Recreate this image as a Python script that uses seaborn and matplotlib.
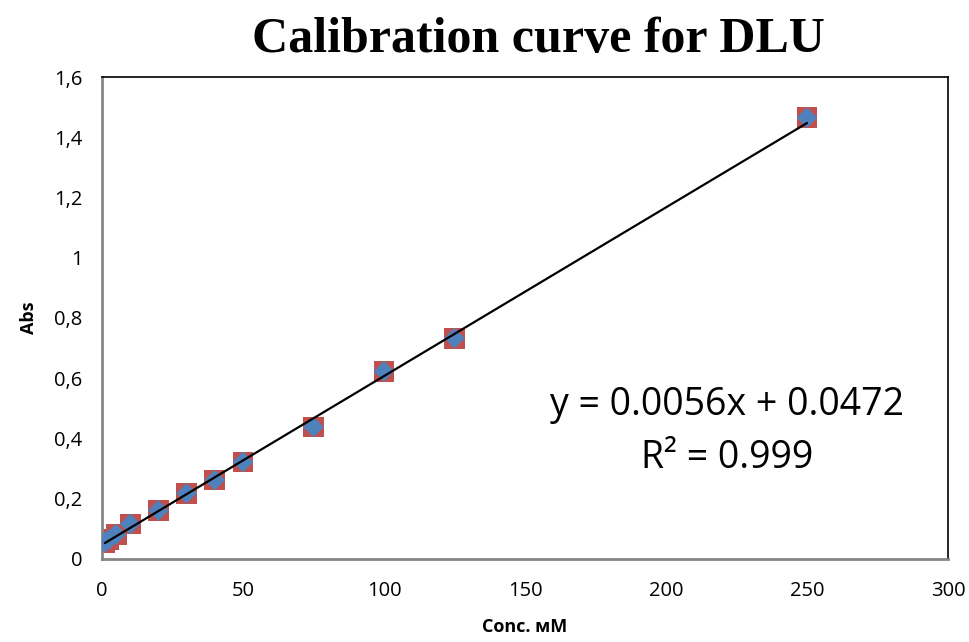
import matplotlib
matplotlib.use("Agg")
import matplotlib.pyplot as plt
import seaborn as sns
import pandas as pd
import numpy as np

conc = [1, 2.5, 5, 10, 20, 30, 40, 50, 75, 100, 125, 250]
abs_red = [0.055, 0.065, 0.082, 0.116, 0.161, 0.218, 0.262, 0.322, 0.438, 0.623, 0.733, 1.465]
abs_blue = [0.055, 0.065, 0.082, 0.116, 0.161, 0.218, 0.262, 0.322, 0.438, 0.623, 0.733, 1.465]
slope = 0.0056
intercept = 0.0472
x_ticks = [0, 50, 100, 150, 200, 250, 300]
y_ticks = [0, 0.2, 0.4, 0.6, 0.8, 1.0, 1.2, 1.4, 1.6]
y_labels = ["0", "0,2", "0,4", "0,6", "0,8", "1", "1,2", "1,4", "1,6"]

df = pd.DataFrame({"conc": conc, "red": abs_red, "blue": abs_blue})

sns.set_theme(style="white")
plt.rcParams["font.family"] = ["Open Sans", "DejaVu Sans"]
plt.rcParams["text.color"] = "black"
plt.rcParams["axes.labelcolor"] = "black"
plt.rcParams["xtick.color"] = "black"
plt.rcParams["ytick.color"] = "black"

fig = plt.figure(figsize=(9.69, 6.42), dpi=100)
ax = fig.add_axes([102/969, 1-559/642, (948-102)/969, (559-77)/642])

sns.scatterplot(data=df, x="conc", y="red", marker="s", s=15**2, color="#C0504D",
                edgecolor="none", ax=ax, zorder=2)
sns.scatterplot(data=df, x="conc", y="blue", marker="D", s=10.5**2, color="#4F81BD",
                edgecolor="none", ax=ax, zorder=3)

xl = np.array([min(conc), max(conc)])
sns.lineplot(x=xl, y=slope*xl + intercept, color="black", lw=1.6, ax=ax, zorder=4)

ax.set_xlim(0, 300)
ax.set_ylim(0, 1.6)
ax.set_xticks(x_ticks)
ax.set_xticklabels([str(t) for t in x_ticks], fontsize=14.5)
ax.set_yticks(y_ticks)
ax.set_yticklabels(y_labels, fontsize=14.5)
ax.tick_params(axis="x", length=0, pad=16)
ax.tick_params(axis="y", length=0, pad=14)

for side in ["top", "right"]:
    ax.spines[side].set_color("black")
    ax.spines[side].set_linewidth(1.2)
for side in ["left", "bottom"]:
    ax.spines[side].set_color("#868686")
    ax.spines[side].set_linewidth(2)

ax.set_xlabel("Conc. мМ", fontsize=13, fontweight="bold", labelpad=12)
ax.set_ylabel("Abs", fontsize=13, fontweight="bold", labelpad=12)

fig.text(538/969, 1-40/642, "Calibration curve for DLU", ha="center", va="center",
         fontsize=36, fontweight="bold", family=["Liberation Serif", "DejaVu Serif"])

fig.text(727/969, 1-405/642, "y = 0.0056x + 0.0472", ha="center", va="center", fontsize=27)
fig.text(727/969, 1-458/642, "R² = 0.999", ha="center", va="center", fontsize=27)

fig.savefig("out.png", dpi=100)
